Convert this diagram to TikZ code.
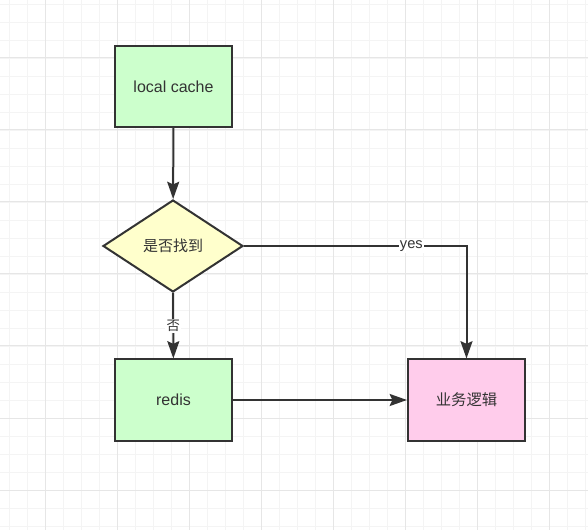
\documentclass[tikz,border=0pt]{standalone}
\usepackage{fontspec}
\setmainfont{Liberation Sans}
\newfontfamily\cjk{Noto Sans CJK SC}
\usetikzlibrary{shapes.geometric,arrows.meta}
\definecolor{gridmajor}{HTML}{E6E6E6}
\definecolor{gridminor}{HTML}{F4F4F4}
\definecolor{edgegray}{HTML}{333333}
\definecolor{textgray}{HTML}{333333}
\definecolor{greenfill}{HTML}{CCFFCC}
\definecolor{yellowfill}{HTML}{FFFFCC}
\definecolor{pinkfill}{HTML}{FFCCEB}
\begin{document}
\begin{tikzpicture}[x=0.75pt, y=-0.75pt,
  box/.style={shape=rectangle, draw=edgegray, line width=1.5pt, minimum width=87.75pt, minimum height=60.75pt, text=textgray, font=\fontsize{12}{14}\selectfont},
  decision/.style={shape=diamond, draw=edgegray, line width=1.5pt, fill=yellowfill, minimum width=105pt, minimum height=69pt, inner sep=0pt, text=textgray, font=\cjk\fontsize{11.25}{13}\selectfont},
  flow/.style={-{Stealth[length=13pt, width=9pt, inset=2pt]}, line width=1.5pt, draw=edgegray},
  tag/.style={fill=white, inner sep=1pt, text=textgray}]
\useasboundingbox (0,0) rectangle (588,530);
% background grid
\foreach \x in {9,27,...,585} \draw[gridminor, line width=0.5pt] (\x,0) -- (\x,530);
\foreach \y in {4,22,...,526} \draw[gridminor, line width=0.5pt] (0,\y) -- (588,\y);
\foreach \x in {45,117,...,549} \draw[gridmajor, line width=0.75pt] (\x,0) -- (\x,530);
\foreach \y in {58,130,...,490} \draw[gridmajor, line width=0.75pt] (0,\y) -- (588,\y);
% nodes
\node[box, fill=greenfill] (cache) at (173.5,86.5) {local cache};
\node[decision] (check) at (173,246) {是否找到};
\node[box, fill=greenfill] (redis) at (173.5,400) {redis};
\node[box, fill=pinkfill, font=\cjk\fontsize{11.5}{13}\selectfont] (logic) at (466.5,400) {业务逻辑};
% connectors
\draw[flow] (cache) -- (check);
\draw[flow] (check) -- node[tag, font=\cjk\fontsize{10}{12}\selectfont] {否} (redis);
\draw[flow] (redis) -- (logic);
\draw[flow] (check.east) -| node[tag, pos=0.376, font=\fontsize{11}{13}\selectfont] {yes} (logic.north);
\end{tikzpicture}
\end{document}
